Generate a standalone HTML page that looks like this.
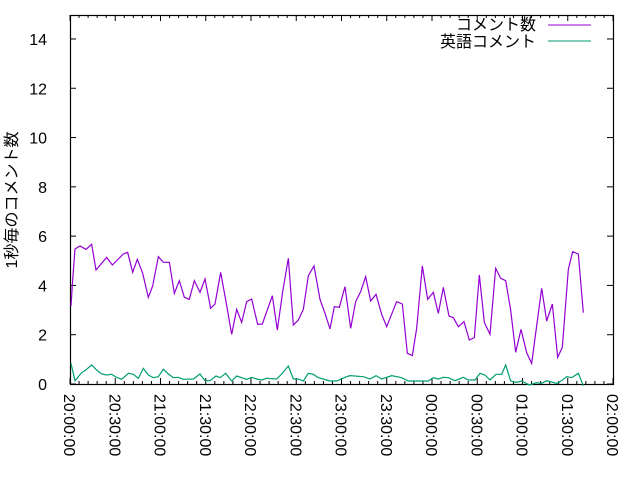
<!DOCTYPE html>
<html><head><meta charset="utf-8"><style>
body{margin:0;background:#fff}
svg{display:block}
text{font-family:"Liberation Sans","Noto Sans CJK JP",sans-serif;font-size:16px;fill:#000}
</style></head><body>
<svg width="640" height="480" viewBox="0 0 640 480" xmlns="http://www.w3.org/2000/svg">
<g id="ticks" stroke="#000" stroke-width="1"></g>
<rect x="70.5" y="15.5" width="543" height="369" fill="none" stroke="#000" stroke-width="1.2"/>
<g id="labels"></g>
<text transform="translate(17,200) rotate(-90)" text-anchor="middle">1秒毎のコメント数</text>
<text x="536" y="30" text-anchor="end">コメント数</text>
<line x1="548" y1="25" x2="591" y2="25" stroke="#9400d3" stroke-width="1"/>
<text x="536" y="47" text-anchor="end">英語コメント</text>
<line x1="548" y1="41" x2="591" y2="41" stroke="#009e73" stroke-width="1"/>
<g transform="translate(60,230) scale(0.33333)" fill="none" stroke-width="1.2">
<polyline vector-effect="non-scaling-stroke" stroke="#9400d3" points="33,228 38,150 45,57 60,48 78,58 95,43 108,120 140,82 157,105 190,72 203,67 218,127 232,88 248,130 265,202 278,168 295,80 310,97 328,97 343,190 358,152 373,202 388,208 403,152 420,187 435,147 452,235 465,222 482,127 498,215 515,313 530,238 545,277 560,215 575,207 593,283 607,282 637,197 652,300 668,185 685,85 700,285 715,270 730,238 745,137 762,108 780,208 795,250 810,297"/>
<polyline vector-effect="non-scaling-stroke" stroke="#9400d3" transform="translate(780,0)" points="30,297 43,230 58,232 75,170 92,295 107,215 122,185 137,140 152,213 168,193 185,253 200,290 230,215 247,222 262,370 277,377 290,295 307,108 323,208 340,187 355,250 370,172 387,258 400,263 415,290 432,275 448,330 463,323 478,135 493,277 510,313 527,115 542,145 557,152 572,240 587,367 603,298 620,368 635,400 665,175 680,273 697,222 713,382 727,352 745,118 758,65 775,72 790,248"/>
<polyline vector-effect="non-scaling-stroke" stroke="#009e73" points="33,400 45,452 65,428 75,422 95,405 110,420 125,432 140,435 155,433 170,442 185,448 205,430 220,433 235,445 250,415 265,435 280,443 295,440 310,418 325,432 340,443 355,442 370,448 400,447 420,432 435,452 450,452 468,438 480,443 497,430 515,453 530,438 545,443 560,448 575,442 590,447 605,450 620,445 650,447 665,432 685,408 700,447 715,447 730,453 745,430 760,433 775,443 790,447 810,453"/>
<polyline vector-effect="non-scaling-stroke" stroke="#009e73" transform="translate(780,0)" points="30,453 50,453 80,440 90,437 130,440 150,447 168,437 185,447 215,437 245,443 265,453 325,453 340,443 355,447 370,442 385,443 405,452 430,442 445,450 465,450 480,430 495,435 510,450 528,433 545,433 557,405 572,453 590,457 605,453 628,465 650,458 665,460 680,452 710,460 725,452 740,440 755,443 775,430 790,467"/>
</g>
<script>
var t=document.getElementById('ticks'),l=document.getElementById('labels'),ns="http://www.w3.org/2000/svg";
function ln(a,b,c,d){var e=document.createElementNS(ns,'line');e.setAttribute('x1',a);e.setAttribute('y1',b);e.setAttribute('x2',c);e.setAttribute('y2',d);t.appendChild(e);}
function tx(s,attrs){var e=document.createElementNS(ns,'text');for(var k in attrs)e.setAttribute(k,attrs[k]);e.textContent=s;l.appendChild(e);}
for(var i=0;i<=7;i++){var y=384-i*49.29;ln(70,y,76,y);ln(613,y,607,y);tx(String(i*2),{x:47,y:y+6,'text-anchor':'end'});}
var L=["20:00:00","20:30:00","21:00:00","21:30:00","22:00:00","22:30:00","23:00:00","23:30:00","00:00:00","00:30:00","01:00:00","01:30:00","02:00:00"];
var dx=543/12;
for(var i=0;i<=60;i++){var x=70+i*dx/5;var len=(i%5==0)?6:3;ln(x,384,x,384-len);ln(x,15,x,15+len);}
for(var i=0;i<=12;i++){var x=70+i*dx;tx(L[i],{transform:'translate('+(x-6)+',394) rotate(90)'});}
</script>
</svg>
</body></html>
